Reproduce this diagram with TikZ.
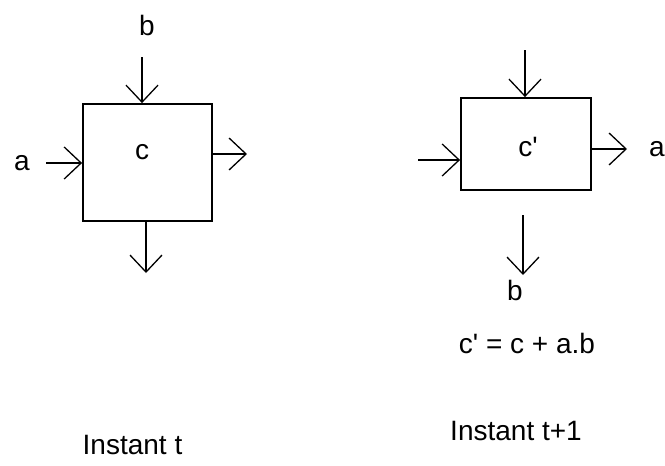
\documentclass[tikz,border=0pt]{standalone}
\usepackage{fontspec}
\setmainfont{Liberation Sans}[Ligatures=TeXOff]
\usetikzlibrary{arrows.meta}
\begin{document}
\begin{tikzpicture}[x=1pt,y=-1pt,
  lbl/.style={inner sep=0pt,font=\fontsize{28}{34}\selectfont},
  boxnode/.style={draw,line width=1.8pt,inner sep=0pt},
  flow/.style={line width=1.3pt,-{Straight Barb[length=17pt,width=32pt,line width=1.3pt]}}]
\useasboundingbox (0,0) rectangle (665,466);
% left box (instant t)
\node[boxnode,minimum width=129pt,minimum height=117pt] (L) at (147.5,162.5) {};
\node[lbl] (Lc) at (142,152) {c};
\node[lbl] (Lb) at (147,25) {b};
\node[lbl] (La) at (22,163) {a};
\coordinate (Ltop) at (142,57);
\coordinate (Lleft) at (46,163);
\coordinate (Rgt) at (247,154);
\coordinate (Lbot) at (146,273);
\draw[flow] (Ltop) -- (Ltop |- L.north);
\draw[flow] (Lleft) -- (Lleft -| L.west);
\draw[flow] (Rgt -| L.east) -- (Rgt);
\draw[flow] (Lbot |- L.south) -- (Lbot);
\node[lbl] (Lt) at (132.5,445) {Instant t};
% right box (instant t+1)
\node[boxnode,minimum width=130pt,minimum height=92pt] (R) at (526,144) {};
\node[lbl] (Rc) at (528,147) {c'};
\node[lbl] (Ra) at (657,149) {a};
\node[lbl] (Rb) at (515,290) {b};
\coordinate (Rtop) at (525,50);
\coordinate (Rleft) at (418,160);
\coordinate (Rright) at (627,149);
\coordinate (Rbot1) at (523,215);
\coordinate (Rbot2) at (523,275);
\draw[flow] (Rtop) -- (Rtop |- R.north);
\draw[flow] (Rleft) -- (Rleft -| R.west);
\draw[flow] (Rright -| R.east) -- (Rright);
\draw[flow] (Rbot1) -- (Rbot2);
\node[lbl] (Eq) at (527,343) {c' = c + a.b};
\node[lbl] (Rt) at (516,431) {Instant t+1};
\end{tikzpicture}
\end{document}
